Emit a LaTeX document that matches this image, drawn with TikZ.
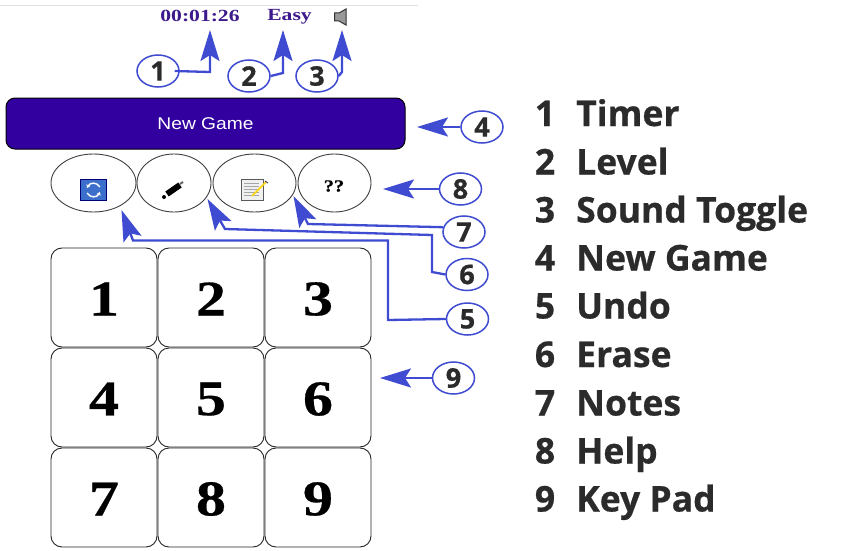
\documentclass[tikz,border=0pt]{standalone}
\usepackage{fontspec}
\setmainfont{Open Sans}[BoldFeatures={FakeBold=0.6}]
\newfontfamily\serifb{Liberation Serif}[FakeStretch=1.2,BoldFeatures={FakeStretch=1.2,FakeBold=0.5}]
\newfontfamily\serifw{Liberation Serif}[BoldFeatures={FakeStretch=1.27}]
\newfontfamily\sansb{Liberation Sans}[FakeStretch=1.13]
\usetikzlibrary{arrows.meta,shapes.geometric}
\definecolor{callblue}{HTML}{3F4BD0}
\definecolor{inkdark}{HTML}{2B2B2B}
\definecolor{royal}{HTML}{3300A0}
\definecolor{headtext}{HTML}{3D1A8C}
\definecolor{iconblue}{HTML}{3B6FCB}
\tikzset{
  x=1pt,y=-1pt,
  keybox/.style={draw=black!85,line width=0.9pt,rounded corners=11pt,minimum width=106pt,minimum height=99pt,inner sep=0pt},
  keydigit/.style={inner sep=0pt,font=\serifb\fontsize{50}{50}\selectfont\bfseries},
  toolbox/.style={draw=black!75,line width=0.9pt,ellipse,inner sep=0pt,minimum height=58pt},
  callout/.style={draw=callblue,line width=1.5pt,ellipse,minimum width=42pt,minimum height=32pt,inner sep=0pt,text=inkdark,font=\fontsize{27}{27}\selectfont\bfseries},
  conn/.style={draw=callblue,line width=2.3pt,line join=miter,-{Stealth[length=31pt,width=19pt,inset=6pt,fill=callblue]}},
  headtxt/.style={text=headtext,inner sep=0pt,font=\serifw\fontsize{17}{17}\selectfont\bfseries},
  legendnum/.style={anchor=base,inner sep=0pt,text=inkdark,font=\fontsize{35.5}{36}\selectfont\bfseries},
  legendtxt/.style={anchor=base west,inner sep=0pt,text=inkdark,font=\fontsize{35.5}{36}\selectfont\bfseries},
}
\begin{document}
\begin{tikzpicture}
\useasboundingbox (0,0) rectangle (862,551);
\fill[white] (0,0) rectangle (862,551);
\draw[black!12,line width=0.8pt] (0,5.5) -- (418,5.5);

% header
\node[headtxt] (timer) at (200,16) {00:01:26};
\node[headtxt] (level) at (289.5,16.5) {Easy};
\filldraw[fill=black!40,draw=black!80,line width=1pt] (334.5,13) -- (339,13) -- (346,9) -- (346,25) -- (339,21) -- (334.5,21) -- cycle;
\coordinate (sound) at (342,30);
\coordinate (timerTip) at (210,30);
\coordinate (levelTip) at (283,30);

% new game
\node[draw=black,line width=1pt,fill=royal,rounded corners=9pt,minimum width=399pt,minimum height=51pt,inner sep=0pt,text=white,font=\sansb\fontsize{17}{17}\selectfont] (newgame) at (205.5,123.5) {New Game};

% tool buttons
\node[toolbox,minimum width=85pt] (undo) at (93.5,183) {};
\node[toolbox,minimum width=74pt] (erase) at (174,183) {};
\node[toolbox,minimum width=83pt] (notes) at (254.5,183) {};
\node[toolbox,minimum width=73pt] (help) at (334.5,183) {};
\node[font=\serifb\fontsize{17}{17}\selectfont\bfseries,inner sep=0pt] (helptxt) at (334,186) {??};
% undo icon
\fill[black!55!blue] (80,179) rectangle (107,201);
\fill[iconblue] (81,180) rectangle (106,200);
\draw[white,line width=1.4pt,-{Stealth[length=3.5pt,width=4.5pt]}] (100,187) .. controls (97,182) and (90,182) .. (87,188);
\draw[white,line width=1.4pt,-{Stealth[length=3.5pt,width=4.5pt]}] (87,193) .. controls (90,198) and (97,198) .. (100,192);
% pencil icon
\draw[black,line width=6pt] (167,194) -- (180,185);
\fill[black] (164,197) circle (2pt);
\draw[black!60,line width=2pt] (180,184) -- (183,182);
% notes icon
\fill[black!6] (241,179) rectangle (263,200);
\draw[black!65,line width=1pt] (241,179) rectangle (263,200);
\foreach \yy in {183,186,189,192,195}{\draw[black!35,line width=0.6pt] (244,\yy) -- (259,\yy);}
\draw[yellow!75!orange,line width=1.6pt] (252,196) -- (266,182);
\draw[black!70,line width=1pt] (265,181) -- (268,183);

% keypad
\node[keybox] (k1) at (104,297.5) {};
\node[keybox] (k2) at (211,297.5) {};
\node[keybox] (k3) at (318,297.5) {};
\node[keybox] (k4) at (104,397.5) {};
\node[keybox] (k5) at (211,397.5) {};
\node[keybox] (k6) at (318,397.5) {};
\node[keybox] (k7) at (104,497.5) {};
\node[keybox] (k8) at (211,497.5) {};
\node[keybox] (k9) at (318,497.5) {};
\foreach \n/\x/\y in {1/104/299,2/211/299,3/318/299,4/104/399,5/211/399,6/318/399,7/104/499,8/211/499,9/318/499}{
  \node[keydigit] (d\n) at (\x,\y) {\n};
}

% callouts
\node[callout] (c1) at (158,71) {1};
\node[callout] (c2) at (249,76) {2};
\node[callout] (c3) at (317,76) {3};
\node[callout] (c4) at (482,127) {4};
\node[callout] (c8) at (460.5,189) {8};
\node[callout] (c7) at (464,232) {7};
\node[callout] (c6) at (467,274.5) {6};
\node[callout] (c5) at (467.5,319) {5};
\node[callout] (c9) at (453.5,378) {9};

\coordinate (tip4) at (417,127);
\coordinate (tip8) at (383,189);
\coordinate (tip9) at (380,378);
\coordinate (tip7) at (293.5,196);
\coordinate (tip6) at (207.5,199);
\coordinate (tip5) at (121.5,210);

\draw[conn] ([xshift=-5pt]c1.east) -- (210,72) -- (timerTip);
\draw[conn] (c2.east) -- (283,73) -- (levelTip);
\draw[conn] (c3.east) -- (342,72) -- (sound);
\draw[conn] (c4.west) -- (tip4);
\draw[conn] (c8.west) -- (tip8);
\draw[conn] (c9.west) -- (tip9);
\draw[conn] (c7.167) -- (308,224) -- (tip7);
\draw[conn] (c6.west) -- (432,272) -- (432,235) -- (225,229) -- (tip6);
\draw[conn] (c5.west) -- (388,320) -- (388,240.5) -- (133,240.5) -- (tip5);

% legend
\foreach \n/\t/\b in {1/Timer/126,2/Level/174.5,3/Sound Toggle/222.5,4/New Game/270.5,5/Undo/318.5,6/Erase/367,7/Notes/415.5,8/Help/463.5,9/Key Pad/511.5}{
  \node[legendnum] (num\n) at (545,\b) {\n};
  \node[legendtxt] (lab\n) at (576,\b) {\t};
}
\end{tikzpicture}
\end{document}
